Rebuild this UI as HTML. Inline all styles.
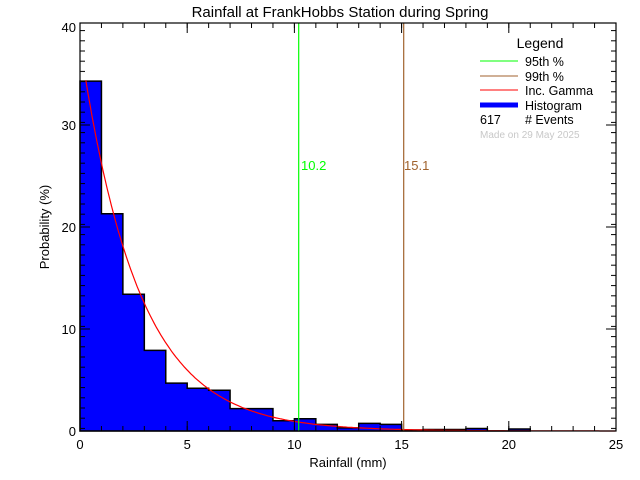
<!DOCTYPE html>
<html><head><style>body{margin:0;background:#fff}svg{display:block}text{font-family:"Liberation Sans",sans-serif}</style></head><body>
<svg width="640" height="480" xmlns="http://www.w3.org/2000/svg">
<defs>
<pattern id="ty" patternUnits="userSpaceOnUse" x="0" y="-0.5" width="640" height="10.2"><rect x="0" y="0" width="640" height="1" fill="#000"/></pattern>
<pattern id="tx" patternUnits="userSpaceOnUse" x="79.5" y="0" width="21.44" height="480"><rect x="0" y="0" width="1" height="480" fill="#000"/></pattern>
</defs>
<rect width="640" height="480" fill="#fff"/>
<text x="340" y="17" font-size="15" text-anchor="middle">Rainfall at FrankHobbs Station during Spring</text>
<path d="M80,431V81.1H101.44V213.7H122.88V294.3H144.32V350.4H165.76V383.1H187.2V388.2H208.64V390.2H230.08V408.6H272.96V420.8H294.4V418.8H315.84V424.4H337.28V427.9H358.72V423.4H380.16V424.4H401.6V430H423.04V429.5H465.92V428.5H487.36V431H508.8V429H530.24V431Z" fill="#0000ff" stroke="#000" stroke-width="1.5"/>
<path id="g" d="" fill="none" stroke="#ff0000" stroke-width="1.2"/>
<script>
var X=function(v){return 80+v*21.44},Y=function(v){return 431-v*10.2};
var p='';for(var x=0.27;x<=25;x+=0.1){var v=38*Math.exp(-0.37*x);p+=(p?'L':'M')+X(x).toFixed(1)+','+Y(v).toFixed(1);}
document.getElementById('g').setAttribute('d',p);
</script>
<line x1="298.7" y1="23" x2="298.7" y2="431" stroke="#00ff00" stroke-width="1.2"/>
<line x1="403.7" y1="23" x2="403.7" y2="431" stroke="#a0622d" stroke-width="1.2"/>
<text x="301" y="170" font-size="13" fill="#00ff00">10.2</text>
<text x="404" y="170" font-size="13" fill="#a0622d">15.1</text>
<rect x="80" y="22.5" width="5" height="409" fill="url(#ty)"/>
<rect x="611" y="22.5" width="5" height="409" fill="url(#ty)"/>
<rect x="79.5" y="426" width="537" height="5" fill="url(#tx)"/>
<rect x="79.5" y="23" width="537" height="5" fill="url(#tx)"/>
<g stroke="#000" stroke-width="1">
<path d="M80,431h10M80,329h10M80,227h10M80,125h10M80,23h10M616,431h-10M616,329h-10M616,227h-10M616,125h-10M616,23h-10"/>
<path d="M80,431v-10M187.2,431v-10M294.4,431v-10M401.6,431v-10M508.8,431v-10M616,431v-10M80,23v10M187.2,23v10M294.4,23v10M401.6,23v10M508.8,23v10M616,23v10"/>
</g>
<rect x="80" y="23" width="536" height="408" fill="none" stroke="#000" stroke-width="1.2"/>
<g font-size="13" text-anchor="middle">
<text x="80" y="449">0</text><text x="187.2" y="449">5</text><text x="294.4" y="449">10</text><text x="401.6" y="449">15</text><text x="508.8" y="449">20</text><text x="616" y="449">25</text>
</g>
<g font-size="13" text-anchor="end">
<text x="76" y="436">0</text><text x="76" y="334">10</text><text x="76" y="232">20</text><text x="76" y="130">30</text><text x="76" y="32">40</text>
</g>
<text x="348" y="467" font-size="13" text-anchor="middle">Rainfall (mm)</text>
<text transform="translate(49,227) rotate(-90)" font-size="13" text-anchor="middle">Probability (%)</text>
<text x="540" y="48" font-size="14" text-anchor="middle">Legend</text>
<line x1="480" y1="61" x2="518" y2="61" stroke="#00ff00"/>
<line x1="480" y1="76" x2="518" y2="76" stroke="#a0622d"/>
<line x1="480" y1="90" x2="518" y2="90" stroke="#ff0000"/>
<line x1="480" y1="105" x2="518" y2="105" stroke="#0000ff" stroke-width="5"/>
<g font-size="12.5"><text x="525" y="66">95th %</text><text x="525" y="81">99th %</text><text x="525" y="95">Inc. Gamma</text><text x="525" y="110">Histogram</text><text x="480" y="124">617</text><text x="525" y="124"># Events</text></g>
<text x="480" y="138" font-size="10" fill="#c8c8c8">Made on 29 May 2025</text>
</svg>
</body></html>
